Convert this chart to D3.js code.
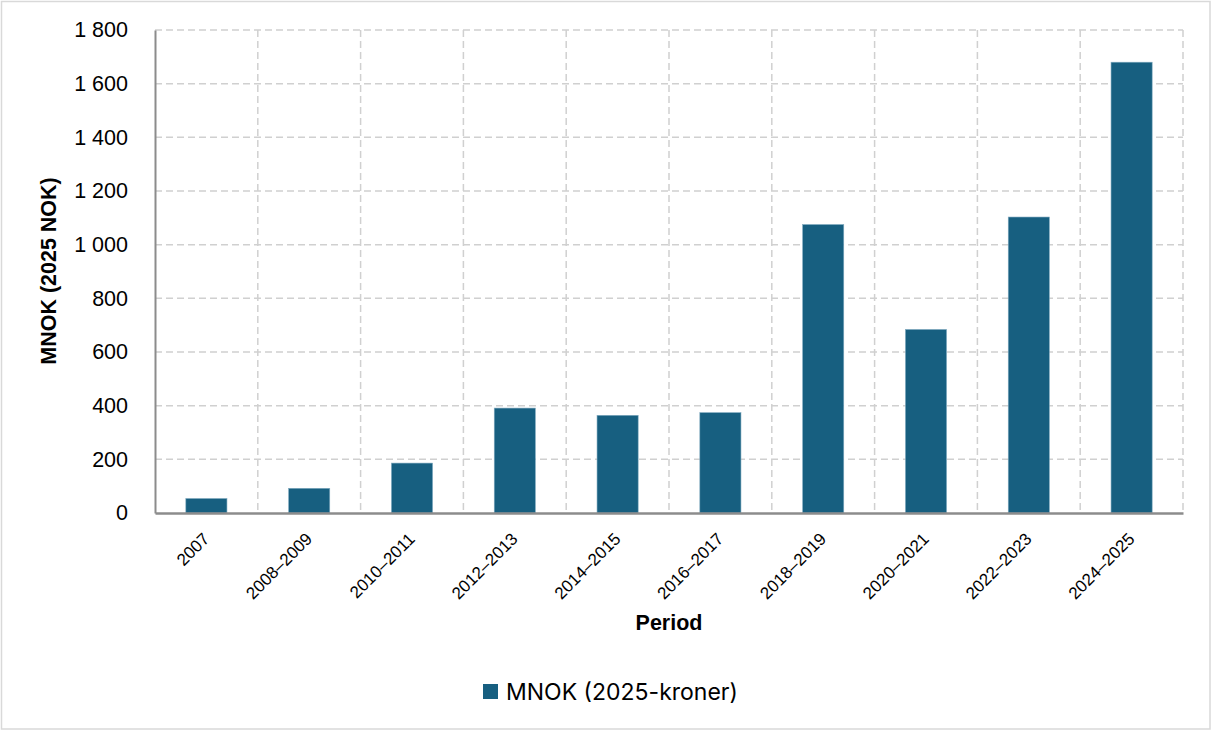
<!DOCTYPE html>
<html>
<head>
<meta charset="utf-8">
<script src="https://cdn.jsdelivr.net/npm/d3@7"></script>
<style>
  html, body { margin: 0; padding: 0; background: #fff; }
  svg { display: block; }
</style>
</head>
<body>
<svg id="chart" width="1212" height="731"></svg>
<script>
// Investment per period, million NOK in 2025 prices
const periods = ["2007", "2008–2009", "2010–2011", "2012–2013", "2014–2015",
                 "2016–2017", "2018–2019", "2020–2021", "2022–2023", "2024–2025"];
const mnok = [54, 92, 186, 391, 364, 374, 1075, 684, 1103, 1680];
const yTicks = [0, 200, 400, 600, 800, 1000, 1200, 1400, 1600, 1800];
const seriesName = "MNOK (2025-kroner)";
const yTitle = "MNOK (2025 NOK)";
const xTitle = "Period";

const W = 1212, H = 731;
const plot = { left: 155, right: 1183, top: 30, bottom: 513 };
const barColor = "#175f80";
const gridColor = "#d0d0d0";
const axisColor = "#8c8c8c";
const font = "'Liberation Sans', Arial, sans-serif";

const svg = d3.select("#chart");

// outer frame
svg.append("rect")
  .attr("x", 1.5).attr("y", 1.5)
  .attr("width", W - 3.5).attr("height", H - 3.5)
  .attr("fill", "#fff").attr("stroke", "#d9d9d9").attr("stroke-width", 1.5);

const x = d3.scaleBand().domain(periods).range([plot.left, plot.right]).paddingInner(0).paddingOuter(0);
const y = d3.scaleLinear().domain([0, 1800]).range([plot.bottom, plot.top]);

const nb = d3.formatLocale({ decimal: ",", thousands: " ", grouping: [3], currency: ["", " kr"] });
const fmt = nb.format(",d");

// horizontal gridlines
svg.append("g").selectAll("line")
  .data(yTicks.filter(d => d > 0))
  .join("line")
  .attr("x1", plot.left).attr("x2", plot.right)
  .attr("y1", d => y(d)).attr("y2", d => y(d))
  .attr("stroke", gridColor).attr("stroke-width", 1.5)
  .attr("stroke-dasharray", "7,4");

// vertical gridlines at category boundaries
const bounds = periods.map(p => x(p) + x.bandwidth());
svg.append("g").selectAll("line")
  .data(bounds)
  .join("line")
  .attr("x1", d => d).attr("x2", d => d)
  .attr("y1", plot.top).attr("y2", plot.bottom)
  .attr("stroke", gridColor).attr("stroke-width", 1.5)
  .attr("stroke-dasharray", "7,4");

// bars
const barW = x.bandwidth() * 0.4;
svg.append("g").selectAll("rect")
  .data(periods.map((p, i) => ({ p, v: mnok[i] })))
  .join("rect")
  .attr("x", d => x(d.p) + (x.bandwidth() - barW) / 2)
  .attr("y", d => y(d.v))
  .attr("width", barW)
  .attr("height", d => y(0) - y(d.v))
  .attr("fill", barColor)
  .attr("stroke", "#7fa9be").attr("stroke-width", 0.6);

// y axis
const yAxis = svg.append("g")
  .attr("transform", `translate(${plot.left},0)`)
  .call(d3.axisLeft(y).tickValues(yTicks).tickFormat(fmt).tickSize(0).tickPadding(27));
yAxis.select(".domain").attr("stroke", axisColor).attr("stroke-width", 2);
yAxis.selectAll("text")
  .attr("font-family", font).attr("font-size", 21.5).attr("fill", "#000");

// x axis
const xAxis = svg.append("g")
  .attr("transform", `translate(0,${plot.bottom})`)
  .call(d3.axisBottom(x).tickSize(0).tickPadding(0));
xAxis.select(".domain").attr("stroke", axisColor).attr("stroke-width", 2.5);
xAxis.selectAll("text")
  .attr("font-family", font).attr("font-size", 17).attr("fill", "#000")
  .attr("text-anchor", "end")
  .attr("dy", 0)
  .attr("transform", "translate(4,27) rotate(-45)");

// axis titles
svg.append("text")
  .attr("transform", `translate(56,271) rotate(-90)`)
  .attr("text-anchor", "middle")
  .attr("font-family", font).attr("font-size", 21.5).attr("font-weight", "bold")
  .text(yTitle);

svg.append("text")
  .attr("x", 669).attr("y", 630)
  .attr("text-anchor", "middle")
  .attr("font-family", font).attr("font-size", 21.5).attr("font-weight", "bold")
  .text(xTitle);

// legend
const legend = svg.append("g").attr("transform", "translate(483,684)");
legend.append("rect").attr("width", 15).attr("height", 15).attr("fill", barColor);
legend.append("text")
  .attr("x", 23).attr("y", 15.5)
  .attr("font-family", "Inter, 'Open Sans', sans-serif").attr("font-size", 23)
  .attr("fill", "#000")
  .text(seriesName);
</script>
</body>
</html>
